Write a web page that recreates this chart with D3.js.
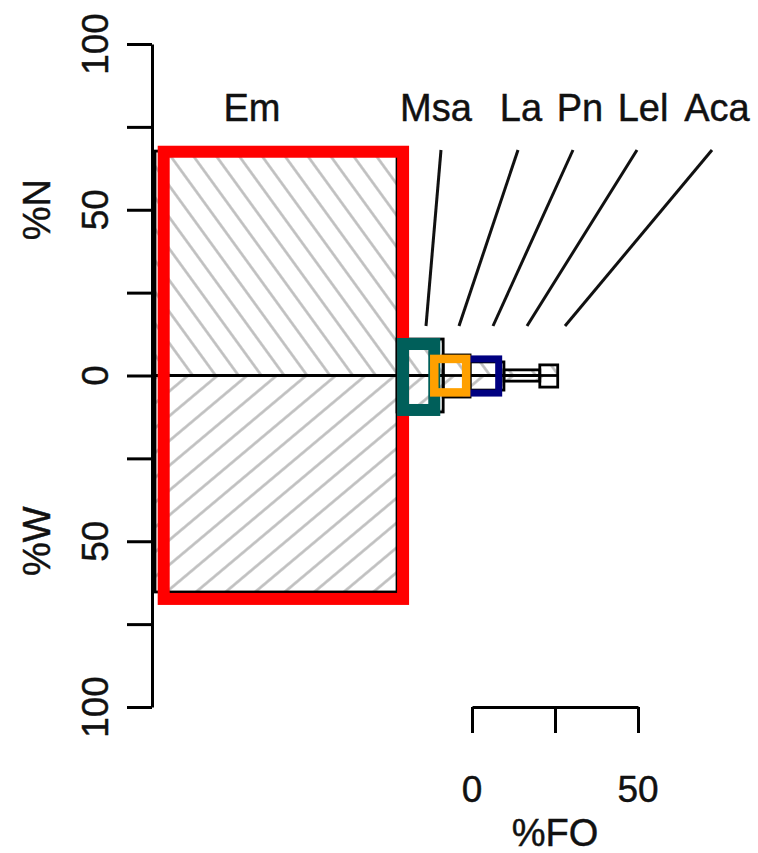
<!DOCTYPE html>
<html>
<head>
<meta charset="utf-8">
<script src="https://cdn.jsdelivr.net/npm/d3@7"></script>
<style>
  html, body { margin: 0; padding: 0; background: #fff; }
  svg { display: block; }
  text { font-family: "Liberation Sans", Arial, sans-serif; fill: #111; stroke: #111; stroke-width: 0.45px; }
</style>
</head>
<body>
<svg id="chart" width="758" height="853"></svg>
<script>
// ---- data ----
const prey = ["Em", "Msa", "La", "Pn", "Lel", "Aca"];
// outlined, hatched rectangles
const pctFO = [72.9, 13.9, 8.1, 10.2, 10.8, 5.4];
const pctN  = [67.7, 11.0, 6.2, 4.1, 1.7, 3.2];
const pctW  = [65.3, 11.0, 6.5, 4.4, 1.7, 3.5];
// highlighted (coloured) rectangles
const hlPrey = ["Em", "Msa", "La", "Pn"];
const hlFO = [72.1, 9.4, 9.6, 9.8];
const hlN  = [67.5, 9.5, 5.0, 5.0];
const hlW  = [67.4, 10.4, 5.1, 5.3];
const hlColors = ["#ff0000", "#005f5a", "#ffa000", "#000080"];
// axis ticks
const yTicks = [-100, -75, -50, -25, 0, 25, 50, 75, 100];
const yTickLabels = [100, 50, 0, -50, -100];
const foTicks = [0, 25, 50];
const foTickLabels = [0, 50];

// ---- layout ----
const svg = d3.select("#chart");
const x = d3.scaleLinear().domain([0, 100]).range([155, 487]);
const y = d3.scaleLinear().domain([-100, 100]).range([707, 44]);
const axisX = 152;

// patterns for hatching
const defs = svg.append("defs");
function hatch(id, angle, spacing) {
  const p = defs.append("pattern")
    .attr("id", id).attr("patternUnits", "userSpaceOnUse")
    .attr("width", spacing).attr("height", 40)
    .attr("patternTransform", `rotate(${angle})`);
  p.append("line").attr("x1", spacing / 2).attr("x2", spacing / 2)
    .attr("y1", -5).attr("y2", 45)
    .attr("stroke", "#bdbdbd").attr("stroke-width", 2.6);
}
hatch("hatchN", -36, 18.5);
hatch("hatchW", 50, 19);

// cumulative placement
const starts = [];
pctFO.reduce((acc, v, i) => { starts[i] = acc; return acc + v; }, 0);
const hlStarts = [];
hlFO.reduce((acc, v, i) => { hlStarts[i] = acc; return acc + v; }, 0);

const rects = prey.map((p, i) => ({ p, x0: starts[i], x1: starts[i] + pctFO[i], n: pctN[i], w: pctW[i] }));

const g = svg.append("g");
// hatched halves
g.selectAll("rect.n").data(rects).join("rect")
  .attr("x", d => x(d.x0)).attr("width", d => x(d.x1) - x(d.x0))
  .attr("y", d => y(d.n)).attr("height", d => y(0) - y(d.n))
  .attr("fill", "url(#hatchN)");
g.selectAll("rect.w").data(rects).join("rect")
  .attr("x", d => x(d.x0)).attr("width", d => x(d.x1) - x(d.x0))
  .attr("y", y(0)).attr("height", d => y(-d.w) - y(0))
  .attr("fill", "url(#hatchW)");
// outlines
g.selectAll("rect.o").data(rects).join("rect")
  .attr("x", d => x(d.x0)).attr("width", d => x(d.x1) - x(d.x0))
  .attr("y", d => y(d.n)).attr("height", d => y(-d.w) - y(d.n))
  .attr("fill", "none").attr("stroke", "#000").attr("stroke-width", 2.8);
// zero lines
g.selectAll("line.z").data(rects).join("line")
  .attr("x1", d => x(d.x0)).attr("x2", d => x(d.x1))
  .attr("y1", y(0)).attr("y2", y(0))
  .attr("stroke", "#000").attr("stroke-width", 2.8);

// highlighted rectangles (drawn Em, Msa, Pn, La)
const hlOffsetPx = 8.7;
const hlWidths = [12, 12, 8.5, 7];
const hl = hlPrey.map((p, i) => ({ p, i, x0: hlStarts[i], x1: hlStarts[i] + hlFO[i], n: hlN[i], w: hlW[i] }));
const order = [0, 1, 3, 2];
g.selectAll("rect.h").data(order.map(k => hl[k])).join("rect")
  .attr("x", d => x(d.x0) + hlOffsetPx).attr("width", d => x(d.x1) - x(d.x0))
  .attr("y", d => y(d.n)).attr("height", d => y(-d.w) - y(d.n))
  .attr("fill", "none")
  .attr("stroke", d => hlColors[d.i])
  .attr("stroke-width", d => hlWidths[d.i]);

// y axis
const yAxis = d3.axisLeft(y).tickValues(yTicks).tickSize(25).tickSizeOuter(0).tickFormat("");
const ya = svg.append("g").attr("transform", `translate(${axisX},0)`).call(yAxis);
ya.selectAll("path, line").attr("stroke", "#000").attr("stroke-width", 3);
svg.append("g").selectAll("text").data(yTickLabels).join("text")
  .attr("transform", d => `translate(108,${y(d)}) rotate(-90)`)
  .attr("text-anchor", "middle").attr("font-size", 37)
  .text(d => Math.abs(d));
svg.append("text").attr("transform", `translate(50,${y(50)}) rotate(-90)`)
  .attr("text-anchor", "middle").attr("font-size", 38).text("%N");
svg.append("text").attr("transform", `translate(50,${y(-50)}) rotate(-90)`)
  .attr("text-anchor", "middle").attr("font-size", 38).text("%W");

// %FO scale bar
const bar = d3.scaleLinear().domain([0, 50]).range([472, 472 + x(50) - x(0)]);
const barAxis = d3.axisBottom(bar).tickValues(foTicks).tickSize(26).tickSizeOuter(0).tickFormat("");
const ba = svg.append("g").attr("transform", "translate(0,707)").call(barAxis);
ba.selectAll("path, line").attr("stroke", "#000").attr("stroke-width", 3);
svg.append("g").selectAll("text").data(foTickLabels).join("text")
  .attr("x", d => bar(d)).attr("y", 802)
  .attr("text-anchor", "middle").attr("font-size", 37).text(d => d);
svg.append("text").attr("x", bar(25)).attr("y", 846)
  .attr("text-anchor", "middle").attr("font-size", 38).text("%FO");

// prey labels and leader lines
const labelX = { Em: 252, Msa: 436, La: 521, Pn: 580, Lel: 643, Aca: 717 };
const leaderTopX = { Msa: 441, La: 518, Pn: 573, Lel: 637, Aca: 712 };
const leaderBotX = { Msa: 426, La: 459, Pn: 493, Lel: 527, Aca: 565 };
svg.append("g").selectAll("text").data(prey).join("text")
  .attr("x", d => labelX[d]).attr("y", 121)
  .attr("text-anchor", "middle").attr("font-size", 38).text(d => d);
svg.append("g").selectAll("line").data(prey.filter(p => leaderTopX[p])).join("line")
  .attr("x1", d => leaderTopX[d]).attr("y1", 150)
  .attr("x2", d => leaderBotX[d]).attr("y2", 326)
  .attr("stroke", "#111").attr("stroke-width", 3);
</script>
</body>
</html>
